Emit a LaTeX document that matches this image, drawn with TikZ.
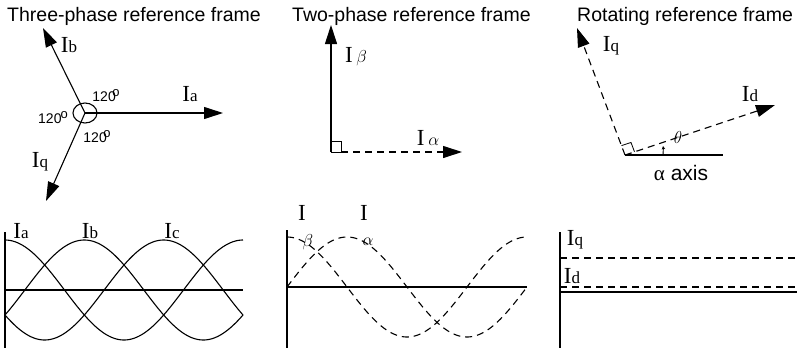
\documentclass[tikz,border=0pt]{standalone}
\usepackage{fontspec}
\setmainfont{Liberation Serif}
\newfontfamily\titlefont{Liberation Sans}
\usetikzlibrary{arrows.meta}
\newcommand\sbs[1]{{\fontsize{17}{17}\selectfont #1}}
\begin{document}
\begin{tikzpicture}[x=1pt,y=-1pt,
 vec/.style={line width=1.1pt,-{Triangle[length=19pt,width=12pt]}},
 dvec/.style={vec,dash pattern=on 7pt off 5pt},
 ttl/.style={font=\titlefont\fontsize{19.5}{20}\selectfont,anchor=base west,inner sep=0},
 lbl/.style={font=\fontsize{23}{23}\selectfont,inner sep=0},
 deg/.style={font=\titlefont\fontsize{14}{14}\selectfont,inner sep=0},
 wave/.style={line width=1.1pt},
 dwave/.style={wave,dash pattern=on 7pt off 5pt},
 axis/.style={line width=1.4pt}]
\useasboundingbox (0,0) rectangle (797,348);

% titles
\node[ttl] (t1) at (7,21) {Three-phase reference frame};
\node[ttl] (t2) at (292,21) {Two-phase reference frame};
\node[ttl] (t3) at (577,21) {Rotating reference frame};

% three-phase vectors
\coordinate (O3) at (85,113);
\coordinate (A3) at (223,113);
\coordinate (B3) at (43,28);
\coordinate (C3) at (46,201);
\draw[line width=1.1pt] (O3) ellipse [x radius=12, y radius=10];
\draw[vec] (O3) -- (A3);
\draw[vec] (O3) -- (B3);
\draw[vec] (O3) -- (C3);
\node[lbl] (ia) at (190,94) {I\sbs{a}};
\node[lbl] (ib) at (69,45) {I\sbs{b}};
\node[lbl] (iq3) at (40,162) {I\sbs{q}};
\node[deg] (d1) at (106,96) {120\kern-3.5pt\raisebox{5pt}{\fontsize{13}{13}\selectfont o}};
\node[deg] (d2) at (53,118) {120\kern-1pt\raisebox{5pt}{\fontsize{13}{13}\selectfont o}};
\node[deg] (d3) at (97,137) {120\kern-3.5pt\raisebox{5pt}{\fontsize{13}{13}\selectfont o}};

% two-phase vectors
\coordinate (O2) at (331,152);
\coordinate (B2) at (331,25);
\coordinate (A2) at (462,152);
\draw[vec] (O2) -- (B2);
\draw[dvec] ([xshift=10pt]O2) -- (A2);
\draw[line width=0.8pt] (331,141) -- (341,141) -- (341,152) -- (331,152);
\node[lbl] (ibeta) at (356,57) {I\,{\fontsize{17}{17}\selectfont$\beta$}};
\node[lbl] (ialpha) at (428,138) {I\,{\fontsize{17}{17}\selectfont$\alpha$}};

% rotating vectors
\coordinate (O1) at (625,155);
\coordinate (Q1) at (577,28);
\coordinate (D1) at (775,105);
\coordinate (X1) at (723,155);
\draw[line width=1.1pt] (O1) -- (X1);
\draw[dvec] (O1) -- (Q1);
\draw[dvec] (O1) -- (D1);
\draw[line width=0.8pt] (634.5,151.8) -- (631,142.5) -- (621.5,145.6);
\draw[line width=0.9pt,-{Stealth[length=3.5pt,width=3.5pt]}] (663,155) .. controls (664,152) .. (663,146);
\node[font=\fontsize{18}{18}\selectfont,inner sep=0] (th) at (678,137) {$\theta$};
\node[lbl] (iq1) at (611,46) {I\sbs{q}};
\node[lbl] (id1) at (750,94) {I\sbs{d}};
\node[inner sep=0,font=\fontsize{21}{21}\selectfont,anchor=base] (ax) at (681,180) {α{\titlefont\ axis}};

% three-phase waves
\draw[axis] (5,232) -- (5,348);
\draw[axis] (5,290) -- (243,290);
\draw[wave] plot[domain=5:243,samples=120] (\x,{290-50*cos((\x-5)/238*360)});
\draw[wave] plot[domain=5:243,samples=120] (\x,{290-50*cos((\x-5)/238*360-120)});
\draw[wave] plot[domain=5:243,samples=120] (\x,{290-50*cos((\x-5)/238*360-240)});
\node[lbl] (wa) at (21,231) {I\sbs{a}};
\node[lbl] (wb) at (90,231) {I\sbs{b}};
\node[lbl] (wc) at (172,231) {I\sbs{c}};

% two-phase waves
\draw[axis] (287,230) -- (287,348);
\draw[axis] (287,287) -- (527,287);
\draw[dwave] plot[domain=287:527,samples=120] (\x,{287-50*cos((\x-287)/240*360)});
\draw[dwave] plot[domain=287:527,samples=120] (\x,{287-50*sin((\x-287)/240*360)});
\node[lbl] (wi1) at (302,213) {I};
\node[lbl] (wi2) at (364,213) {I};
\node[inner sep=0,font=\fontsize{16}{16}\selectfont] (wbeta) at (308,242) {$\beta$};
\node[inner sep=0,font=\fontsize{16}{16}\selectfont] (walpha) at (368,242) {$\alpha$};

% rotating waves
\draw[axis] (560,232) -- (560,348);
\draw[axis] (560,292) -- (797,292);
\draw[dwave] (560,258) -- (797,258);
\draw[dwave] (560,287) -- (797,287);
\node[lbl] (wq) at (575,240) {I\sbs{q}};
\node[lbl] (wd) at (572,276) {I\sbs{d}};
\end{tikzpicture}
\end{document}
